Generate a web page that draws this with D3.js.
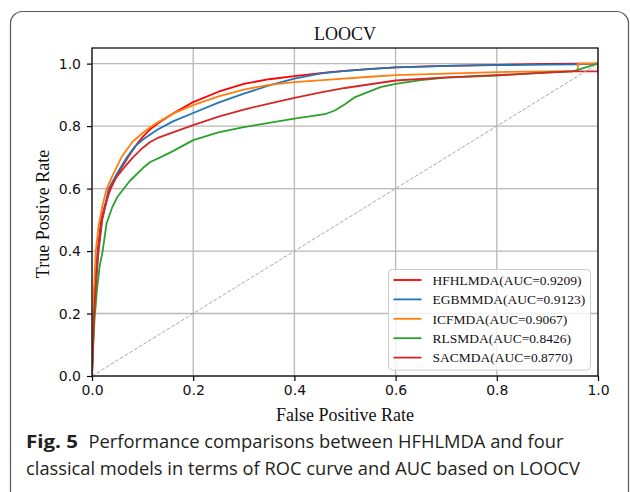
<!DOCTYPE html>
<html>
<head>
<meta charset="utf-8">
<script src="https://cdn.jsdelivr.net/npm/d3@7"></script>
<style>
  html, body { margin: 0; padding: 0; background: #fff; }
  svg { display: block; }
</style>
</head>
<body>
<svg id="chart" width="630" height="492"></svg>
<script>
// ---- data ----
const title = "LOOCV";
const xLabel = "False Positive Rate";
const yLabel = "True Postive Rate";
const xTicks = [0, 0.2, 0.4, 0.6, 0.8, 1.0];
const yTicks = [0, 0.2, 0.4, 0.6, 0.8, 1.0];
const seriesNames = ["HFHLMDA(AUC=0.9209)", "EGBMMDA(AUC=0.9123)", "ICFMDA(AUC=0.9067)", "RLSMDA(AUC=0.8426)", "SACMDA(AUC=0.8770)"];
const seriesColors = ["#ff0000", "#1f77b4", "#ff7f0e", "#2ca02c", "#d62728"];

const fprHFHL = [0,0.001,0.003,0.006,0.011,0.018,0.026,0.037,0.05,0.071,0.09,0.1,0.115,0.13,0.16,0.2,0.25,0.3,0.35,0.4,0.47,0.55,0.6,0.7,0.8,0.9,0.95,1];
const tprHFHL = [0,0.1,0.2,0.3,0.4,0.5,0.55,0.6,0.645,0.7,0.745,0.765,0.79,0.808,0.84,0.877,0.91,0.935,0.95,0.96,0.973,0.983,0.988,0.993,0.996,0.999,1,1];

const fprEGBM = [0,0.002,0.004,0.008,0.012,0.02,0.033,0.05,0.069,0.085,0.1,0.115,0.13,0.16,0.2,0.25,0.3,0.35,0.4,0.45,0.5,0.6,0.7,0.8,0.9,0.96,1];
const tprEGBM = [0,0.1,0.2,0.3,0.4,0.5,0.6,0.65,0.7,0.735,0.756,0.773,0.789,0.815,0.842,0.875,0.904,0.93,0.952,0.968,0.977,0.988,0.993,0.995,0.997,0.998,1];

const fprICF = [0,0.001,0.003,0.0075,0.013,0.02,0.029,0.04,0.058,0.08,0.1,0.115,0.13,0.16,0.2,0.25,0.3,0.35,0.4,0.47,0.55,0.6,0.7,0.8,0.9,0.96,0.96,1];
const tprICF = [0,0.12,0.25,0.4,0.48,0.54,0.6,0.64,0.7,0.75,0.778,0.796,0.812,0.84,0.867,0.895,0.917,0.932,0.941,0.949,0.958,0.963,0.968,0.973,0.975,0.977,1,1];

const fprRLS = [0,0.002,0.005,0.01,0.015,0.021,0.029,0.04,0.05,0.075,0.1,0.115,0.135,0.16,0.2,0.25,0.3,0.35,0.4,0.46,0.48,0.5,0.52,0.55,0.57,0.6,0.65,0.7,0.8,0.9,0.95,1];
const tprRLS = [0,0.08,0.18,0.28,0.35,0.4,0.49,0.54,0.573,0.625,0.665,0.685,0.7,0.72,0.755,0.78,0.797,0.81,0.824,0.838,0.85,0.87,0.893,0.912,0.925,0.935,0.947,0.955,0.962,0.972,0.975,1];

const fprSAC = [0,0.002,0.004,0.008,0.013,0.02,0.035,0.05,0.065,0.081,0.1,0.115,0.13,0.16,0.2,0.25,0.3,0.35,0.4,0.45,0.5,0.6,0.7,0.8,0.9,0.95,1,1];
const tprSAC = [0,0.1,0.2,0.3,0.4,0.5,0.6,0.64,0.67,0.7,0.73,0.749,0.762,0.78,0.803,0.83,0.853,0.872,0.89,0.907,0.922,0.946,0.956,0.963,0.971,0.975,0.975,1];

const captionBold = "Fig. 5";
const captionLine1 = "Performance comparisons between HFHLMDA and four";
const captionLine2 = "classical models in terms of ROC curve and AUC based on LOOCV";

const seriesFpr = [fprHFHL, fprEGBM, fprICF, fprRLS, fprSAC];
const seriesTpr = [tprHFHL, tprEGBM, tprICF, tprRLS, tprSAC];

// ---- layout ----
const svg = d3.select("#chart");
const pLeft = 92, pRight = 598, pTop = 48, pBottom = 376;
const x = d3.scaleLinear().domain([0, 1]).range([pLeft, pRight]);
const y = d3.scaleLinear().domain([0, 1.05]).range([pBottom, pTop]);

// outer frame
svg.append("rect")
  .attr("x", 10.5).attr("y", 11.5).attr("width", 618).attr("height", 500)
  .attr("rx", 12).attr("ry", 12)
  .attr("fill", "none").attr("stroke", "#5a5a5a").attr("stroke-width", 1.2);

// clip
svg.append("clipPath").attr("id", "plotclip")
  .append("rect").attr("x", pLeft).attr("y", pTop).attr("width", pRight - pLeft).attr("height", pBottom - pTop);

// grid
const grid = svg.append("g");
grid.selectAll("line.gx").data(xTicks).join("line").attr("class", "gx")
  .attr("x1", d => x(d)).attr("x2", d => x(d)).attr("y1", pTop).attr("y2", pBottom)
  .attr("stroke", "#b8b8b8").attr("stroke-width", 1.3);
grid.selectAll("line.gy").data(yTicks).join("line").attr("class", "gy")
  .attr("x1", pLeft).attr("x2", pRight).attr("y1", d => y(d)).attr("y2", d => y(d))
  .attr("stroke", "#b8b8b8").attr("stroke-width", 1.3);

// curves
const line = d3.line().x(d => x(d[0])).y(d => y(d[1]));
const plot = svg.append("g").attr("clip-path", "url(#plotclip)");
seriesNames.forEach((name, i) => {
  const pts = seriesFpr[i].map((f, j) => [f, seriesTpr[i][j]]);
  plot.append("path").datum(pts)
    .attr("d", line)
    .attr("fill", "none")
    .attr("stroke", seriesColors[i])
    .attr("stroke-width", 1.8)
    .attr("stroke-linejoin", "round");
});
// diagonal
plot.append("path").datum([[0, 0], [1, 1]])
  .attr("d", line).attr("fill", "none")
  .attr("stroke", "#a8a8a8").attr("stroke-width", 1)
  .attr("stroke-dasharray", "3.7,1.8");

// axes
const xAxis = d3.axisBottom(x).tickValues(xTicks).tickFormat(d3.format(".1f")).tickSize(5).tickPadding(4);
const yAxis = d3.axisLeft(y).tickValues(yTicks).tickFormat(d3.format(".1f")).tickSize(5).tickPadding(6);
const gx = svg.append("g").attr("transform", `translate(0,${pBottom})`).call(xAxis);
const gy = svg.append("g").attr("transform", `translate(${pLeft},0)`).call(yAxis);
[gx, gy].forEach(g => {
  g.select(".domain").remove();
  g.selectAll(".tick line").attr("stroke", "#000").attr("stroke-width", 1.2);
  g.selectAll(".tick text").attr("fill", "#111")
    .style("font-family", "'DejaVu Sans', sans-serif").style("font-size", "14px");
});

// spines
svg.append("rect")
  .attr("x", pLeft).attr("y", pTop).attr("width", pRight - pLeft).attr("height", pBottom - pTop)
  .attr("fill", "none").attr("stroke", "#111").attr("stroke-width", 1.3);

// title and labels
const serif = "'Liberation Serif', 'Times New Roman', serif";
svg.append("text").text(title)
  .attr("x", (pLeft + pRight) / 2).attr("y", 40).attr("text-anchor", "middle")
  .style("font-family", serif).style("font-size", "18px").attr("fill", "#111");
svg.append("text").text(xLabel)
  .attr("x", (pLeft + pRight) / 2).attr("y", 421).attr("text-anchor", "middle")
  .style("font-family", serif).style("font-size", "18px").attr("fill", "#111");
svg.append("text").text(yLabel)
  .attr("transform", `translate(49,${(pTop + pBottom) / 2 + 2}) rotate(-90)`)
  .attr("text-anchor", "middle")
  .style("font-family", serif).style("font-size", "18px").attr("fill", "#111");

// legend
const lg = svg.append("g");
lg.append("rect")
  .attr("x", 388.5).attr("y", 269.5).attr("width", 202).attr("height", 100.5)
  .attr("rx", 4).attr("fill", "#fff").attr("fill-opacity", 0.8)
  .attr("stroke", "#cccccc").attr("stroke-width", 1);
seriesNames.forEach((name, i) => {
  const yy = 280 + i * 19.4;
  lg.append("line").attr("x1", 393.5).attr("x2", 421.5).attr("y1", yy).attr("y2", yy)
    .attr("stroke", seriesColors[i]).attr("stroke-width", 1.8);
  lg.append("text").text(name).attr("x", 432.5).attr("y", yy + 4.8)
    .style("font-family", serif).style("font-size", "13.5px").attr("fill", "#111");
});

// caption
const capFont = "'Open Sans', 'Noto Sans', sans-serif";
svg.append("text").text(captionBold)
  .attr("x", 26).attr("y", 448)
  .style("font-family", capFont).style("font-size", "18px").style("font-weight", "bold")
  .attr("fill", "#231f20")
  .attr("textLength", 52).attr("lengthAdjust", "spacingAndGlyphs");
svg.append("text").text(captionLine1)
  .attr("x", 88.5).attr("y", 448)
  .style("font-family", capFont).style("font-size", "18px")
  .attr("fill", "#231f20")
  .attr("textLength", 475).attr("lengthAdjust", "spacingAndGlyphs");
svg.append("text").text(captionLine2)
  .attr("x", 26).attr("y", 475)
  .style("font-family", capFont).style("font-size", "18px")
  .attr("fill", "#231f20")
  .attr("textLength", 554).attr("lengthAdjust", "spacingAndGlyphs");
</script>
</body>
</html>
